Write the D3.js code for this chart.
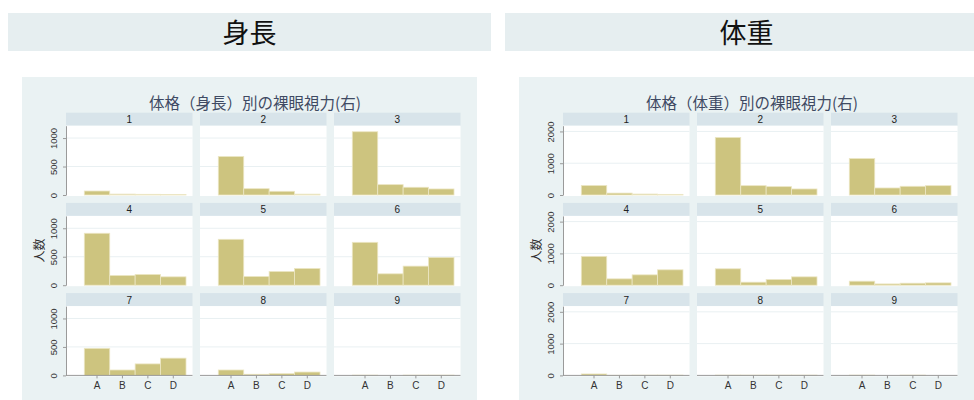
<!DOCTYPE html>
<html><head><meta charset="utf-8">
<script src="https://cdn.jsdelivr.net/npm/d3@7"></script>
<style>
body{margin:0;background:#fff;}
text{font-family:"Liberation Sans",Arial,sans-serif;}
.jp{font-family:"Noto Sans CJK JP","Noto Sans",sans-serif;}
</style></head>
<body><svg id="c" width="974" height="400"></svg>
<script>
const categories = ["A","B","C","D"];
const groups = ["1","2","3","4","5","6","7","8","9"];
const bannerTitles = ["身長","体重"];
const chartTitles = ["体格（身長）別の裸眼視力(右)","体格（体重）別の裸眼視力(右)"];
const yLabel = "人数";
const heightCounts = [
  [70,16,12,10],[676,111,65,15],[1111,182,136,106],
  [912,171,189,147],[806,153,241,294],[753,200,335,488],
  [475,95,202,303],[95,20,30,59],[5,0,5,5]
];
const weightCounts = [
  [300,60,30,20],[1810,294,263,190],[1147,221,274,294],
  [907,200,326,484],[516,95,179,263],[126,40,63,74],
  [45,5,10,10],[10,10,10,10],[10,0,10,0]
];
const heightTicks = [0,500,1000];
const weightTicks = [0,1000,2000];
const heightMax = 1217;
const weightMax = 2180;

const svg = d3.select("#c");
const C = {bar:"#cdc47f", barStroke:"#ece6c4", bg:"#eaf2f3", banner:"#e6eef0", strip:"#d8e4ea", grid:"#e9f0f2", axis:"#9a9a9a", title:"#3f4a63"};

// banners
const banners = [{x:8,w:483,tx:249.5},{x:505,w:469,tx:746.5}];
banners.forEach((b,i)=>{
  svg.append("rect").attr("x",b.x).attr("y",13).attr("width",b.w).attr("height",38).attr("fill",C.banner);
  svg.append("text").attr("class","jp").attr("x",b.tx).attr("y",31).attr("text-anchor","middle")
    .attr("dominant-baseline","central").attr("font-size",27).attr("fill","#111").text(bannerTitles[i]);
});

function drawChart(ox, title, data, ticks, ymax){
  const g = svg.append("g").attr("transform",`translate(${ox},0)`);
  g.append("rect").attr("x",22).attr("y",77).attr("width",455).attr("height",330).attr("fill",C.bg);
  g.append("text").attr("class","jp").attr("x",255).attr("y",101.5).attr("text-anchor","middle")
    .attr("dominant-baseline","central").attr("font-size",15.5).attr("fill",C.title).text(title);
  const colX = [66,200,334], pw = 126.5, stripH = 13, ph = 69.3, rowTop = 112.7, rowStep = 90.2;
  const x = d3.scaleBand().domain(categories).range([18.3,120]).paddingInner(0).paddingOuter(0);
  const y = d3.scaleLinear().domain([0,ymax]).range([ph,0]);
  groups.forEach((gname,i)=>{
    const r = Math.floor(i/3), c = i%3;
    const px = colX[c], hy = rowTop + r*rowStep, py = hy + stripH;
    const p = g.append("g").attr("transform",`translate(${px},${hy})`);
    p.append("rect").attr("width",pw).attr("height",stripH).attr("fill",C.strip);
    p.append("text").attr("x",pw/2).attr("y",stripH/2+0.5).attr("text-anchor","middle")
      .attr("dominant-baseline","central").attr("font-size",10).attr("fill","#222").text(gname);
    const q = g.append("g").attr("transform",`translate(${px},${py})`);
    q.append("rect").attr("width",pw).attr("height",ph+1).attr("fill","#fff");
    q.selectAll("line.grid").data(ticks.filter(t=>t>0)).join("line").attr("class","grid")
      .attr("x1",0).attr("x2",pw).attr("y1",d=>y(d)).attr("y2",d=>y(d))
      .attr("stroke",C.grid).attr("stroke-width",1);
    q.selectAll("rect.bar").data(data[i].map((v,k)=>({k:categories[k],v}))).join("rect").attr("class","bar")
      .attr("x",d=>x(d.k)).attr("width",x.bandwidth()).attr("y",d=>y(d.v)).attr("height",d=>ph-y(d.v))
      .attr("fill",C.bar).attr("stroke",d=>d.v>0?C.barStroke:"none").attr("stroke-width",0.8);
    if(c===0){
      const ya = q.append("g").call(d3.axisLeft(y).tickValues(ticks).tickSize(3).tickSizeOuter(0).tickFormat(d3.format("d")));
      ya.select(".domain").attr("stroke",C.axis);
      ya.selectAll(".tick line").attr("stroke",C.axis);
      ya.selectAll(".tick text").attr("font-size",9.5).attr("fill","#333")
        .attr("transform","rotate(-90)").attr("x",0).attr("y",-9).attr("dy",0)
        .attr("text-anchor","middle").attr("dominant-baseline","auto");
    }
    if(r===2){
      const xa = q.append("g").attr("transform",`translate(0,${ph})`)
        .call(d3.axisBottom(x).tickSize(3).tickSizeOuter(0));
      xa.select(".domain").attr("stroke",C.axis).attr("d",`M0,0H${pw}`);
      xa.selectAll(".tick line").attr("stroke",C.axis);
      xa.selectAll(".tick text").attr("font-size",10).attr("fill","#333").attr("y",7);
    }
  });
  g.append("text").attr("class","jp").attr("transform",`translate(38,${rowTop+rowStep+stripH+ph/2}) rotate(-90)`)
    .attr("text-anchor","middle").attr("dominant-baseline","central").attr("font-size",12).attr("fill","#333").text(yLabel);
}
drawChart(0, chartTitles[0], heightCounts, heightTicks, heightMax);
drawChart(497, chartTitles[1], weightCounts, weightTicks, weightMax);
</script></body></html>
